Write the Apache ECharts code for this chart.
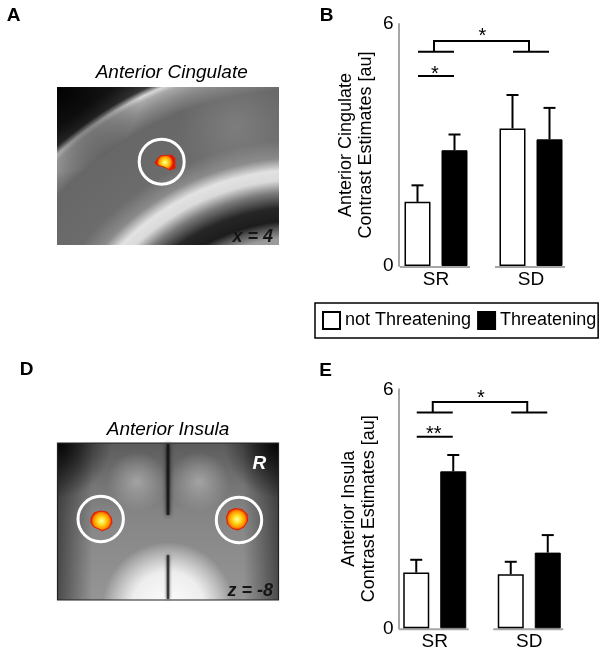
<!DOCTYPE html>
<html>
<head>
<meta charset="utf-8">
<script src="https://cdn.jsdelivr.net/npm/echarts@6/dist/echarts.min.js"></script>
<style>
html, body { margin: 0; padding: 0; background: #fff; }
#chart { width: 600px; height: 653px; }
</style>
</head>
<body>
<div id="chart"></div>
<script>
var groups = ['SR', 'SD'];
var seriesNames = ['not Threatening', 'Threatening'];

// B: anterior cingulate (mean, top of error bar)
var cingNotThreat = [1.59, 3.41];
var cingNotThreatErr = [2.00, 4.24];
var cingThreat = [2.87, 3.14];
var cingThreatErr = [3.26, 3.92];

// E: anterior insula
var insNotThreat = [1.40, 1.36];
var insNotThreatErr = [1.72, 1.67];
var insThreat = [3.94, 1.90];
var insThreatErr = [4.35, 2.34];

var yMin = 0, yMax = 6;

// significance marks: [from group, to group, line level, foot level]
var cingSig = [[0, 1, 5.58, 5.31], [0, 0, 4.71, 4.71]];
var cingSigLabels = ['*', '*'];
var insSig = [[0, 1, 5.68, 5.42], [0, 0, 4.81, 4.81]];
var insSigLabels = ['*', '**'];

var FONT = 'Arial, "Liberation Sans", Helvetica, sans-serif';
var BAR_W = 26, BAR_GAP = 11;
var ERR_OFF = (BAR_W + BAR_GAP) / 2;
var AXIS_GREY = '#a6a6a6';

var chart = echarts.init(document.getElementById('chart'));

function pairs(vals, errs) {
    return vals.map(function (v, i) { return [i, v, errs[i]]; });
}

// upper whisker only, like the figure
function errRenderer(dx) {
    return function (params, api) {
        var base = api.coord([api.value(0), api.value(1)]);
        var top = api.coord([api.value(0), api.value(2)]);
        var x = base[0] + dx;
        var st = { stroke: '#000', lineWidth: 2 };
        return {
            type: 'group',
            children: [
                { type: 'line', shape: { x1: x, y1: base[1], x2: x, y2: top[1] }, style: st },
                { type: 'line', shape: { x1: x - 6, y1: top[1], x2: x + 6, y2: top[1] }, style: st }
            ]
        };
    };
}

// split baseline under each group
function baseRenderer(params, api) {
    var c = api.coord([api.value(0), 0]);
    return {
        type: 'line',
        shape: { x1: c[0] - 36, y1: c[1] + 1, x2: c[0] + 34, y2: c[1] + 1 },
        style: { stroke: AXIS_GREY, lineWidth: 2 }
    };
}

function sigRenderer(labels) {
    return function (params, api) {
        var a = api.value(0), b = api.value(1);
        var p0 = api.coord([a, api.value(2)]);
        var p1 = api.coord([b, api.value(2)]);
        var f0 = api.coord([a, api.value(3)]);
        var f1 = api.coord([b, api.value(3)]);
        var half = 18;
        var st = { stroke: '#000', lineWidth: 2, fill: null };
        var kids = [];
        var lift;
        if (a === b) {
            kids.push({ type: 'line', shape: { x1: p0[0] - half, y1: p0[1], x2: p0[0] + half, y2: p0[1] }, style: st });
            lift = 2;
        } else {
            kids.push({ type: 'polyline', shape: { points: [[f0[0] - 2, f0[1]], [p0[0] - 2, p0[1]], [p1[0] - 2, p1[1]], [f1[0] - 2, f1[1]]] }, style: st });
            kids.push({ type: 'line', shape: { x1: f0[0] - half, y1: f0[1], x2: f0[0] + half, y2: f0[1] }, style: st });
            kids.push({ type: 'line', shape: { x1: f1[0] - half, y1: f1[1], x2: f1[0] + half, y2: f1[1] }, style: st });
            lift = 4;
        }
        kids.push({
            type: 'text',
            x: (p0[0] + p1[0]) / 2 - 1,
            y: p0[1] - lift,
            style: { text: labels[params.dataIndex], fill: '#000', fontSize: 20, fontFamily: FONT, align: 'center', verticalAlign: 'middle' }
        });
        return { type: 'group', children: kids };
    };
}

function panelSeries(g, notT, notTErr, thr, thrErr, sig, sigLabels) {
    return [
        {
            type: 'bar', name: seriesNames[0], xAxisIndex: g, yAxisIndex: g, data: notT,
            barWidth: BAR_W, barGap: (BAR_GAP / BAR_W * 100) + '%',
            itemStyle: { color: '#fff', borderColor: '#000', borderWidth: 1.5 }
        },
        {
            type: 'bar', name: seriesNames[1], xAxisIndex: g, yAxisIndex: g, data: thr,
            barWidth: BAR_W,
            itemStyle: { color: '#000', borderColor: '#000', borderWidth: 1 }
        },
        { type: 'custom', xAxisIndex: g, yAxisIndex: g, renderItem: errRenderer(-ERR_OFF), data: pairs(notT, notTErr), z: 3 },
        { type: 'custom', xAxisIndex: g, yAxisIndex: g, renderItem: errRenderer(ERR_OFF), data: pairs(thr, thrErr), z: 3 },
        { type: 'custom', xAxisIndex: g, yAxisIndex: g, renderItem: baseRenderer, data: groups.map(function (n, i) { return [i, 0]; }), z: 1 },
        { type: 'custom', xAxisIndex: g, yAxisIndex: g, renderItem: sigRenderer(sigLabels), data: sig, z: 3 }
    ];
}

function xAxisFor(g) {
    return {
        type: 'category', gridIndex: g, data: groups,
        axisLine: { show: false }, axisTick: { show: false },
        axisLabel: { color: '#000', fontSize: 19, fontFamily: FONT, margin: 4 }
    };
}

function yAxisFor(g, name, off, gap) {
    return {
        type: 'value', gridIndex: g, min: yMin, max: yMax, interval: 6, offset: off,
        axisLine: { show: true, lineStyle: { color: AXIS_GREY, width: 2 } },
        axisTick: { show: false }, splitLine: { show: false },
        axisLabel: { color: '#000', fontSize: 19, fontFamily: FONT, margin: 5 },
        name: name, nameLocation: 'middle', nameGap: gap,
        nameTextStyle: { color: '#000', fontSize: 18, lineHeight: 20, fontFamily: FONT }
    };
}

// ---- decorative brain slices (kept inside their boxes by using gradients only)
function rg(cx, cy, r, stops) { return { type: 'radial', x: cx, y: cy, r: r, global: true, colorStops: stops }; }
function st(o, c) { return { offset: o, color: c }; }
var boxA = { x: 57, y: 87, width: 222, height: 158 };
var boxD = { x: 57, y: 443, width: 222, height: 157 };
function layer(box, fill) { return { type: 'rect', z: 1, shape: box, style: { fill: fill } }; }

var blobFill = { type: 'radial', x: 0.5, y: 0.5, r: 0.5, colorStops: [
    st(0, '#ffffb0'), st(0.35, '#ffe020'), st(0.75, '#ff9000'), st(1, '#e01800')] };

function txt(x, y, s, size, extra) {
    var style = { text: s, fill: '#000', fontSize: size, fontFamily: FONT, align: 'center', verticalAlign: 'middle' };
    for (var k in extra) style[k] = extra[k];
    return { type: 'text', x: x, y: y, z: 20, style: style };
}

var graphics = [
    // A: sagittal slice, concentric arcs round a centre off the lower right
    layer(boxA, rg(300, 420, 380, [
        st(0, '#a0a0a0'), st(0.48, '#9a9a9a'), st(0.505, '#5a5a5a'), st(0.525, '#1c1c1c'),
        st(0.56, '#262626'), st(0.6, '#7a7a7a'), st(0.632, '#dadada'), st(0.658, '#e2e2e2'),
        st(0.69, '#8a8a8a'), st(0.737, '#6c6c6c'), st(0.868, '#676767'), st(0.908, '#8a8a8a'),
        st(0.934, '#a8a8a8'), st(0.947, '#d8d8d8'), st(0.963, '#363636'), st(1, '#1e1e1e')])),
    layer(boxA, rg(57, 87, 85, [st(0, 'rgba(0,0,0,0.95)'), st(1, 'rgba(0,0,0,0)')])),
    layer(boxA, rg(235, 125, 55, [st(0, 'rgba(160,160,160,0.35)'), st(1, 'rgba(160,160,160,0)')])),
    { type: 'circle', z: 2, shape: { cx: 161.7, cy: 161.7, r: 22.5 }, style: { fill: null, stroke: '#fff', lineWidth: 3 } },
    { type: 'polygon', z: 2, shape: { points: [[155, 162.3], [160, 156], [171.7, 155], [175, 158.3], [175, 168.3], [169.3, 170], [165, 167.3], [156.7, 165]] },
      style: { fill: blobFill, stroke: '#e02000', lineWidth: 1 } },

    // D: axial slice
    layer(boxD, { type: 'linear', x: 0, y: 0, x2: 0, y2: 1, colorStops: [st(0, '#5c5c5c'), st(0.45, '#858585'), st(1, '#959595')] }),
    layer(boxD, { type: 'linear', x: 0, y: 0, x2: 1, y2: 0, colorStops: [st(0, 'rgba(0,0,0,0.5)'), st(0.16, 'rgba(0,0,0,0)'), st(0.84, 'rgba(0,0,0,0)'), st(1, 'rgba(0,0,0,0.5)')] }),
    layer(boxD, rg(137, 482, 30, [st(0, 'rgba(175,175,175,0.8)'), st(1, 'rgba(175,175,175,0)')])),
    layer(boxD, rg(199, 482, 30, [st(0, 'rgba(175,175,175,0.8)'), st(1, 'rgba(175,175,175,0)')])),
    layer(boxD, rg(57, 443, 55, [st(0, 'rgba(0,0,0,0.9)'), st(1, 'rgba(0,0,0,0)')])),
    layer(boxD, rg(279, 443, 55, [st(0, 'rgba(0,0,0,0.9)'), st(1, 'rgba(0,0,0,0)')])),
    layer(boxD, rg(168, 608, 66, [st(0, 'rgba(255,255,255,1)'), st(0.55, 'rgba(245,245,245,0.92)'), st(1, 'rgba(255,255,255,0)')])),
    { type: 'line', z: 1, shape: { x1: 168, y1: 444, x2: 168, y2: 515 }, style: { stroke: 'rgba(20,20,20,0.85)', lineWidth: 3, shadowBlur: 4, shadowColor: '#000' } },
    { type: 'line', z: 1, shape: { x1: 168, y1: 555, x2: 168, y2: 599 }, style: { stroke: 'rgba(30,30,30,0.75)', lineWidth: 2.5, shadowBlur: 3, shadowColor: '#000' } },
    { type: 'circle', z: 2, shape: { cx: 100.7, cy: 519, r: 22.7 }, style: { fill: null, stroke: '#fff', lineWidth: 3 } },
    { type: 'circle', z: 2, shape: { cx: 239, cy: 520, r: 22.7 }, style: { fill: null, stroke: '#fff', lineWidth: 3 } },
    { type: 'polygon', z: 2, shape: { points: [[91, 518], [94, 513], [100, 511], [107, 512], [111, 517], [112, 523], [109, 528], [104, 530], [102, 531], [99, 529], [94, 527], [91, 523]] },
      style: { fill: blobFill, stroke: '#e02000', lineWidth: 1 } },
    { type: 'polygon', z: 2, shape: { points: [[226.5, 517], [229, 511], [235, 508.5], [242, 509.5], [247, 514], [247.5, 521], [244, 527], [238, 530], [232, 528.5], [227.5, 524]] },
      style: { fill: blobFill, stroke: '#e02000', lineWidth: 1 } },
    { type: 'rect', z: 3, shape: { x: 57.5, y: 443, width: 221, height: 157 }, style: { fill: null, stroke: '#222', lineWidth: 1.2 } },

    // labels
    txt(13.5, 16, 'A', 19, { fontWeight: 'bold' }),
    txt(326.5, 15.5, 'B', 19, { fontWeight: 'bold' }),
    txt(26.7, 370, 'D', 19, { fontWeight: 'bold' }),
    txt(325.5, 371, 'E', 19, { fontWeight: 'bold' }),
    txt(171.7, 73, 'Anterior Cingulate', 19, { fontStyle: 'italic' }),
    txt(168, 430, 'Anterior Insula', 19, { fontStyle: 'italic' }),
    txt(273, 237, 'x = 4', 18, { fontStyle: 'italic', fontWeight: 'bold', align: 'right', fill: '#151515' }),
    txt(273, 591, 'z = -8', 18, { fontStyle: 'italic', fontWeight: 'bold', align: 'right', fill: '#151515' }),
    txt(259.3, 463.5, 'R', 19, { fontStyle: 'italic', fontWeight: 'bold', fill: '#fff' })
];

var option = {
    animation: false,
    backgroundColor: '#fff',
    textStyle: { fontFamily: FONT },
    grid: [
        { left: 388.5, top: 24, width: 190, height: 242 },
        { left: 387.5, top: 389.3, width: 189, height: 239 }
    ],
    xAxis: [xAxisFor(0), xAxisFor(1)],
    yAxis: [
        yAxisFor(0, 'Anterior Cingulate\nContrast Estimates [au]', -10, 22),
        yAxisFor(1, 'Anterior Insula\nContrast Estimates [au]', -11, 19)
    ],
    legend: {
        left: 315, top: 303, orient: 'horizontal',
        itemWidth: 17, itemHeight: 17, itemGap: 6,
        padding: [8, 2, 8, 7],
        borderColor: '#000', borderWidth: 1.5,
        selectedMode: false,
        textStyle: { fontSize: 18, color: '#000', fontFamily: FONT },
        data: [{ name: seriesNames[0], icon: 'rect' }, { name: seriesNames[1], icon: 'rect' }]
    },
    graphic: graphics,
    series: panelSeries(0, cingNotThreat, cingNotThreatErr, cingThreat, cingThreatErr, cingSig, cingSigLabels)
        .concat(panelSeries(1, insNotThreat, insNotThreatErr, insThreat, insThreatErr, insSig, insSigLabels))
};

chart.setOption(option);
</script>
</body>
</html>
